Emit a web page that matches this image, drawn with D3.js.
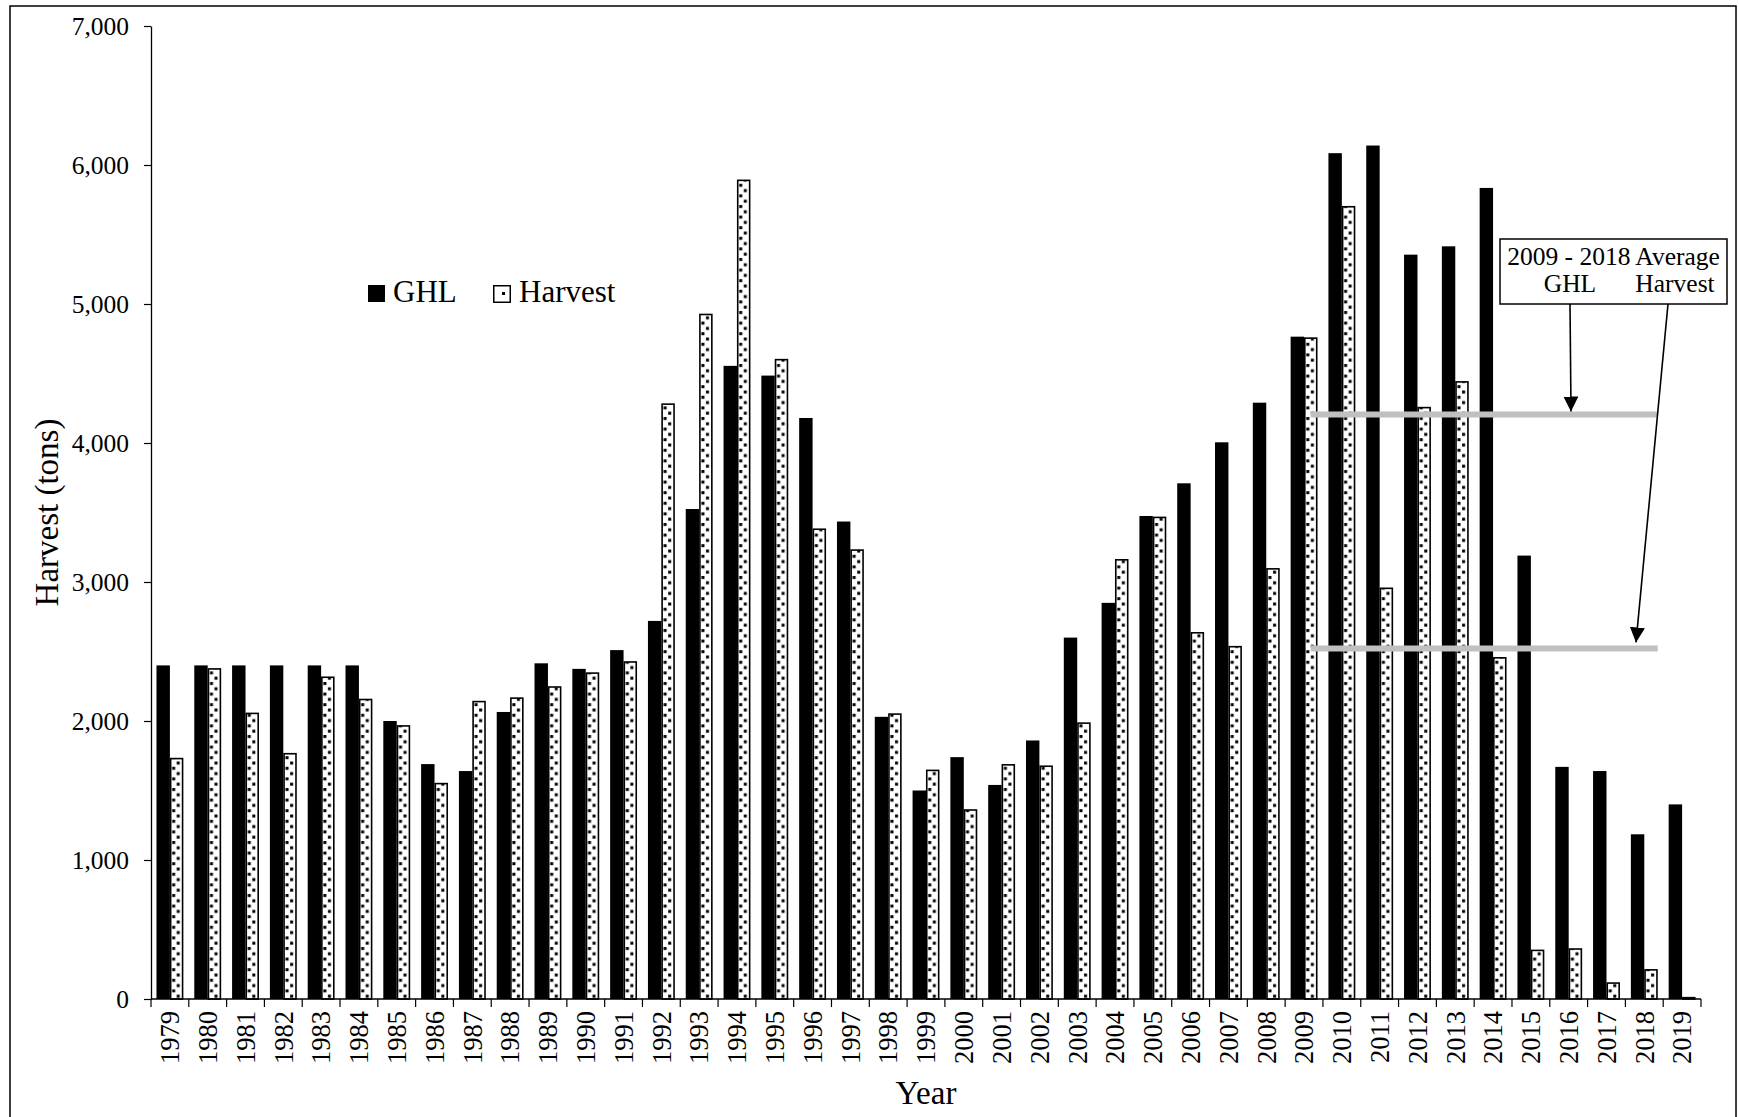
<!DOCTYPE html>
<html><head><meta charset="utf-8">
<script src="https://cdn.jsdelivr.net/npm/d3@7"></script>
<style>
body{margin:0;background:#fff;}
text{font-family:"Liberation Serif","Times New Roman",serif;fill:#000;}
</style>
</head><body>
<svg id="c" width="1739" height="1117"></svg>
<script>
// ---- data ----
const years = [1979,1980,1981,1982,1983,1984,1985,1986,1987,1988,1989,1990,1991,1992,1993,1994,1995,1996,1997,1998,1999,2000,2001,2002,2003,2004,2005,2006,2007,2008,2009,2010,2011,2012,2013,2014,2015,2016,2017,2018,2019];
const ghl = [2400,2400,2400,2400,2400,2400,2000,1690,1640,2065,2415,2375,2510,2720,3525,4555,4485,4180,3435,2030,1500,1740,1540,1860,2600,2850,3475,3710,4005,4290,4765,6085,6140,5355,5415,5835,3190,1670,1640,1185,1400];
const harvest = [1735,2380,2060,1770,2320,2160,1970,1555,2145,2170,2250,2350,2430,4285,4930,5895,4605,3385,3235,2055,1650,1365,1690,1680,1990,3165,3470,2640,2540,3100,4760,5705,2960,4260,4445,2460,355,365,120,215,15];
const yTicks = [0,1000,2000,3000,4000,5000,6000,7000];
const seriesNames = ["GHL","Harvest"];
const avgGHL = 4205;       // 2009 - 2018 average GHL (drawn line)
const avgHarvest = 2522;   // 2009 - 2018 average Harvest (drawn line)
const avgRange = [2009, 2018];
const noteLine1 = "2009 - 2018 Average";

// ---- layout ----
const m = {left:151, right:1701, top:26, bottom:999};
const svg = d3.select("#c");
const FONT = '"Liberation Serif","Times New Roman",serif';

svg.append("rect").attr("x",10).attr("y",6).attr("width",1726).attr("height",1140)
  .attr("fill","none").attr("stroke","#000").attr("stroke-width",1.5);

const x = d3.scaleBand().domain(years).range([m.left,m.right]).paddingInner(0.29).paddingOuter(0.145);
const xs = d3.scaleBand().domain(seriesNames).range([0,x.bandwidth()]);
const y = d3.scaleLinear().domain([0,7000]).range([m.bottom,m.top]);

// patterns for Harvest bars (one per bar so dots align with each bar)
const defs = svg.append("defs");
const bw = xs.bandwidth();
const pat = defs.selectAll("pattern").data(years).join("pattern")
  .attr("id", d => "p" + d)
  .attr("patternUnits","userSpaceOnUse")
  .attr("x", d => x(d) + xs("Harvest"))
  .attr("y", m.bottom)
  .attr("width", bw).attr("height", 10.6);
pat.append("rect").attr("width",bw).attr("height",10.6).attr("fill","#fff");
pat.append("rect").attr("x",bw*0.28-1.5).attr("y",1).attr("width",3).attr("height",3).attr("fill","#000");
pat.append("rect").attr("x",bw*0.62-1.5).attr("y",6.3).attr("width",3).attr("height",3).attr("fill","#000");

// arrow marker
defs.append("marker").attr("id","arr").attr("markerUnits","userSpaceOnUse")
  .attr("viewBox","0 0 14 14").attr("markerWidth",15).attr("markerHeight",15)
  .attr("refX",14).attr("refY",7).attr("orient","auto")
  .append("path").attr("d","M0,0L14,7L0,14Z").attr("fill","#000");

// ---- bars ----
const g = svg.append("g");
g.selectAll("rect.ghl").data(years).join("rect").attr("class","ghl")
  .attr("x", d => x(d) + xs("GHL"))
  .attr("width", bw)
  .attr("y", (d,i) => y(ghl[i]))
  .attr("height", (d,i) => y(0) - y(ghl[i]))
  .attr("fill","#000");

g.selectAll("rect.hv").data(years).join("rect").attr("class","hv")
  .attr("x", d => x(d) + xs("Harvest") + 0.75)
  .attr("width", bw - 1.5)
  .attr("y", (d,i) => y(harvest[i]) + 0.75)
  .attr("height", (d,i) => Math.max(0.5, y(0) - y(harvest[i]) - 0.75))
  .attr("fill", d => "url(#p" + d + ")")
  .attr("stroke","#000").attr("stroke-width",1.6);

// ---- y axis ----
const ya = svg.append("g").attr("transform",`translate(${m.left},0)`)
  .call(d3.axisLeft(y).tickValues(yTicks).tickFormat(d3.format(",")).tickSize(7).tickSizeOuter(0).tickPadding(15));
ya.select(".domain").attr("stroke","#000").attr("stroke-width",1.3);
ya.selectAll(".tick line").attr("stroke","#000").attr("stroke-width",1.2);
ya.selectAll(".tick text").attr("font-family",FONT).attr("font-size",25.5).attr("fill","#000");

// ---- x axis ----
svg.append("line").attr("x1",m.left).attr("x2",m.right).attr("y1",y(0)).attr("y2",y(0))
  .attr("stroke","#000").attr("stroke-width",1.3);
const step = x.step();
const bounds = years.map(d => x(d) - step*x.paddingInner()/2).concat([m.right]);
svg.selectAll("line.xt").data(bounds).join("line").attr("class","xt")
  .attr("x1", d => d).attr("x2", d => d).attr("y1", y(0)).attr("y2", y(0)+8)
  .attr("stroke","#000").attr("stroke-width",1.2);
svg.selectAll("text.yr").data(years).join("text").attr("class","yr")
  .attr("transform", d => `translate(${x(d)+x.bandwidth()/2},${y(0)+12}) rotate(-90)`)
  .attr("text-anchor","end").attr("dy","0.35em")
  .attr("font-size",26.5).text(d => d);

// ---- titles ----
svg.append("text").attr("x",(m.left+m.right)/2).attr("y",1104).attr("text-anchor","middle")
  .attr("font-size",33).text("Year");
svg.append("text").attr("transform",`translate(46,${(m.top+m.bottom)/2}) rotate(-90)`)
  .attr("text-anchor","middle").attr("dy","0.35em").attr("font-size",33).text("Harvest (tons)");

// ---- legend ----
const lg = svg.append("g");
lg.append("rect").attr("x",368).attr("y",285).attr("width",17).attr("height",17).attr("fill","#000");
lg.append("text").attr("x",393).attr("y",302).attr("font-size",31).text(seriesNames[0]);
lg.append("rect").attr("x",493.75).attr("y",285.75).attr("width",16.5).attr("height",16.5)
  .attr("fill","#fff").attr("stroke","#000").attr("stroke-width",1.5);
lg.append("rect").attr("x",502).attr("y",292).attr("width",3).attr("height",3).attr("fill","#000");
lg.append("text").attr("x",519).attr("y",302).attr("font-size",31).text(seriesNames[1]);

// ---- average lines ----
const ax1 = x(avgRange[0]) + xs("Harvest") + bw/2;
const ax2 = x(avgRange[1]) + x.bandwidth();
[avgGHL, avgHarvest].forEach(v => {
  svg.append("line").attr("x1",ax1).attr("x2",ax2).attr("y1",y(v)).attr("y2",y(v))
    .attr("stroke","#c0c0c0").attr("stroke-width",6);
});

// ---- annotation ----
const nb = {x:1500, y:239, w:227, h:65};
svg.append("rect").attr("x",nb.x).attr("y",nb.y).attr("width",nb.w).attr("height",nb.h)
  .attr("fill","#fff").attr("stroke","#000").attr("stroke-width",1.5);
svg.append("text").attr("x",nb.x+nb.w/2).attr("y",265).attr("text-anchor","middle")
  .attr("font-size",25.5).text(noteLine1);
svg.append("text").attr("x",1570).attr("y",292).attr("text-anchor","middle").attr("font-size",25.5).text(seriesNames[0]);
svg.append("text").attr("x",1675).attr("y",292).attr("text-anchor","middle").attr("font-size",25.5).text(seriesNames[1]);

svg.append("line").attr("x1",1570).attr("y1",nb.y+nb.h).attr("x2",1571).attr("y2",y(avgGHL)-3)
  .attr("stroke","#000").attr("stroke-width",1.6).attr("marker-end","url(#arr)");
svg.append("line").attr("x1",1668).attr("y1",nb.y+nb.h).attr("x2",1636).attr("y2",y(avgHarvest)-6)
  .attr("stroke","#000").attr("stroke-width",1.6).attr("marker-end","url(#arr)");
</script>
</body></html>
